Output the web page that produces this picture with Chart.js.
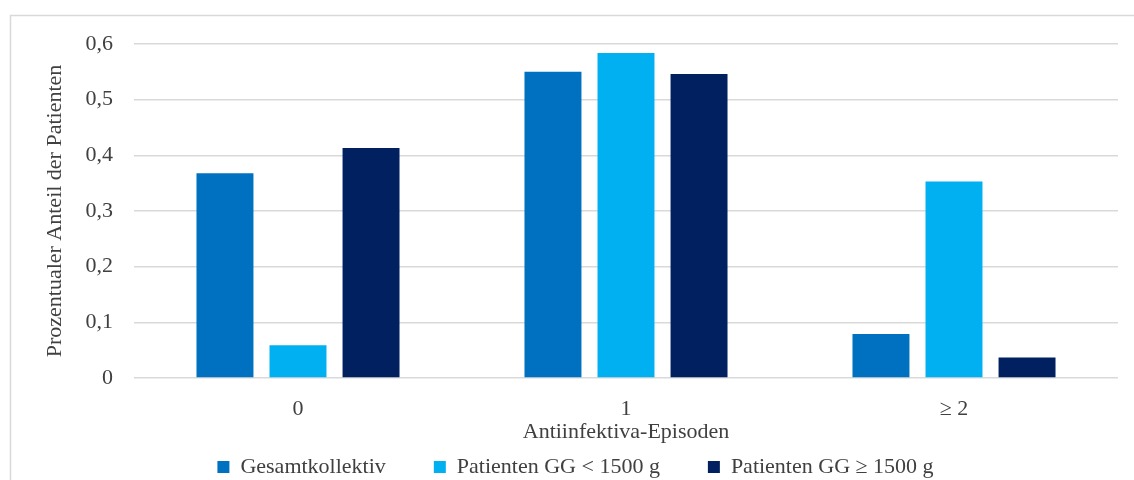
<!DOCTYPE html>
<html lang="de">
<head>
<meta charset="utf-8">
<title>Antiinfektiva-Episoden</title>
<script src="https://cdn.jsdelivr.net/npm/chart.js@4/dist/chart.umd.min.js"></script>
<style>
  html, body { margin: 0; padding: 0; background: #ffffff; }
  #wrap { width: 1134px; height: 480px; position: relative; }
</style>
</head>
<body>
<div id="wrap"><canvas id="chart" width="1134" height="480"></canvas></div>
<script>
// Anzahl der Antiinfektiva-Episoden
const categories = ['0', '1', '≥ 2'];

// Anteil der Patienten je Gruppe
const gesamtkollektiv = [0.368, 0.550, 0.079];
const unter1500 = [0.059, 0.584, 0.353];
const ab1500 = [0.413, 0.546, 0.037];

const seriesNames = ['Gesamtkollektiv', 'Patienten GG < 1500 g', 'Patienten GG ≥ 1500 g'];
const seriesColors = ['#0070C0', '#00B0F0', '#002060'];

const yTickLabels = ['0', '0,1', '0,2', '0,3', '0,4', '0,5', '0,6'];

const textColor = '#404040';
const gridColor = '#d9d9d9';
const serif = "'Liberation Serif', 'DejaVu Serif', serif";

// Rahmen um das gesamte Diagramm
const frame = {
  id: 'frame',
  beforeDraw(chart) {
    const ctx = chart.ctx;
    ctx.save();
    ctx.fillStyle = '#ffffff';
    ctx.fillRect(0, 0, chart.width, chart.height);
    ctx.strokeStyle = gridColor;
    ctx.lineWidth = 1.5;
    ctx.strokeRect(10.5, 15.5, chart.width + 20, chart.height + 20);
    ctx.restore();
  }
};

const datasets = [gesamtkollektiv, unter1500, ab1500].map((values, i) => ({
  label: seriesNames[i],
  data: values,
  backgroundColor: seriesColors[i],
  borderWidth: 0,
  categoryPercentage: 0.668,
  barPercentage: 0.78
}));

new Chart(document.getElementById('chart'), {
  type: 'bar',
  data: { labels: categories, datasets },
  plugins: [frame],
  options: {
    responsive: false,
    animation: false,
    devicePixelRatio: 1,
    layout: { padding: { left: 21, right: 4, top: 44, bottom: 0 } },
    plugins: {
      tooltip: { enabled: false },
      legend: {
        position: 'bottom',
        maxHeight: 72,
        labels: {
          boxWidth: 12,
          boxHeight: 12,
          padding: 48,
          color: textColor,
          font: { family: serif, size: 22 }
        }
      }
    },
    scales: {
      x: {
        grid: { display: false },
        border: { display: false },
        ticks: {
          color: textColor,
          padding: 10,
          font: { family: serif, size: 22 }
        },
        title: {
          display: true,
          text: 'Antiinfektiva-Episoden',
          color: textColor,
          font: { family: serif, size: 22 },
          padding: { top: 0, bottom: -37 }
        },
        afterFit(scale) {
          scale.height = 30;
          // the category labels reach below this short axis box; draw them unclipped
          scale._computeLabelArea = () => undefined;
        }
      },
      y: {
        min: 0,
        max: 0.6,
        grid: { color: gridColor, lineWidth: 1.5, drawTicks: false },
        border: { display: false },
        ticks: {
          stepSize: 0.1,
          padding: 21,
          color: textColor,
          font: { family: serif, size: 22 },
          callback: (value, index) => yTickLabels[index]
        },
        title: {
          display: true,
          text: 'Prozentualer Anteil der Patienten',
          color: textColor,
          font: { family: serif, size: 22 },
          padding: { top: 21, bottom: 0 }
        },
        afterFit(scale) { scale.width = 113; }
      },
      yRight: {
        position: 'right',
        display: true,
        grid: { display: false },
        border: { display: false },
        ticks: { display: false },
        afterFit(scale) { scale.width = 12; }
      }
    }
  }
});
</script>
</body>
</html>
